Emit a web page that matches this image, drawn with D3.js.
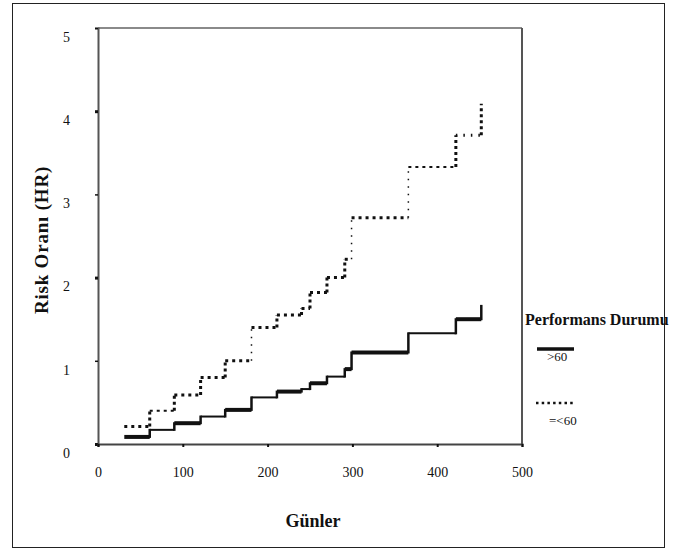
<!DOCTYPE html>
<html>
<head>
<meta charset="utf-8">
<script src="https://d3js.org/d3.v7.min.js"></script>
<style>
  body { margin: 0; background: #fff; }
  text { font-family: "Liberation Serif", "DejaVu Serif", serif; fill: #111; }
</style>
</head>
<body>
<div id="chart"></div>
<script>
// step change points (days) shared by both groups
const stepDays = [31, 61, 90, 121, 150, 181, 211, 240, 250, 270, 291, 299, 366, 422, 452];
// hazard ratio level held from each change point to the next
const hrAbove60 = [0.085, 0.17, 0.25, 0.33, 0.41, 0.56, 0.63, 0.66, 0.73, 0.81, 0.90, 1.10, 1.33, 1.50];
const hrBelow60 = [0.21, 0.40, 0.59, 0.80, 1.00, 1.40, 1.55, 1.63, 1.82, 2.00, 2.22, 2.72, 3.33, 3.71];
// value reached at the last change point
const hrAbove60End = 1.66;
const hrBelow60End = 4.09;

const xTicks = [0, 100, 200, 300, 400, 500];
const yTicks = [0, 1, 2, 3, 4, 5];
const legendTitle = "Performans Durumu";
const legendLabels = [">60", "=<60"];

const W = 682, H = 550;
const svg = d3.select("#chart").append("svg")
  .attr("width", W).attr("height", H);

// outer frame
svg.append("rect")
  .attr("x", 12.5).attr("y", 3.5).attr("width", 652).attr("height", 544)
  .attr("fill", "none").attr("stroke", "#222").attr("stroke-width", 1);

const x = d3.scaleLinear().domain([0, 500]).range([98, 522]);
const y = d3.scaleLinear().domain([0, 5]).range([444, 28]);

// plot frame: top lighter, right darker
svg.append("line").attr("x1", x(0)).attr("x2", x(500)).attr("y1", y(5)).attr("y2", y(5))
  .attr("stroke", "#8a8a8a").attr("stroke-width", 2);
svg.append("line").attr("x1", x(500)).attr("x2", x(500)).attr("y1", y(5)).attr("y2", y(0))
  .attr("stroke", "#555").attr("stroke-width", 2);

// y axis
const yAxis = svg.append("g")
  .attr("transform", "translate(" + x(0) + ",0)")
  .call(d3.axisLeft(y).tickValues(yTicks).tickSize(3).tickPadding(25).tickFormat(d3.format("d")));
yAxis.select(".domain").attr("stroke", "#555").attr("stroke-width", 2);
yAxis.selectAll(".tick line").attr("stroke", "#111").attr("stroke-width", function(d) { return d % 2 === 0 ? 3 : 1.5; });
yAxis.selectAll(".tick text")
  .attr("dy", "0.95em")
  .style("font-size", "14px").attr("fill", "#111");

// x axis
const xAxis = svg.append("g")
  .attr("transform", "translate(0," + y(0) + ")")
  .call(d3.axisBottom(x).tickValues(xTicks).tickSize(3).tickPadding(20).tickFormat(d3.format("d")));
xAxis.select(".domain").attr("stroke", "#444").attr("stroke-width", 2);
xAxis.selectAll(".tick line").attr("stroke", "#111").attr("stroke-width", 2);
xAxis.selectAll(".tick text")
  .style("font-size", "14px").attr("fill", "#111");

// build horizontal and vertical step segments
function segments(levels, endVal) {
  const h = [], v = [];
  levels.forEach(function(val, i) {
    h.push({x1: stepDays[i], x2: stepDays[i + 1], y: val, i: i});
    const next = i + 1 < levels.length ? levels[i + 1] : endVal;
    v.push({x: stepDays[i + 1], y1: val, y2: next});
  });
  return {h: h, v: v};
}

// >60 : solid step line, scanned look with alternating weights
const thickIdx = [0, 2, 4, 6, 8, 10, 11, 13];
const sA = segments(hrAbove60, hrAbove60End);
svg.append("g").selectAll("line").data(sA.h).join("line")
  .attr("x1", d => x(d.x1)).attr("x2", d => x(d.x2))
  .attr("y1", d => y(d.y)).attr("y2", d => y(d.y))
  .attr("stroke", "#111")
  .attr("stroke-width", d => thickIdx.includes(d.i) ? 4 : 2);
svg.append("g").selectAll("line").data(sA.v).join("line")
  .attr("x1", d => x(d.x)).attr("x2", d => x(d.x))
  .attr("y1", d => y(d.y1) + 1).attr("y2", d => y(d.y2) - 1)
  .attr("stroke", "#111").attr("stroke-width", 2.5);

// =<60 : dotted step line
const sB = segments(hrBelow60, hrBelow60End);
svg.append("g").selectAll("line").data(sB.h).join("line")
  .attr("x1", d => x(d.x1)).attr("x2", d => x(d.x2))
  .attr("y1", d => y(d.y)).attr("y2", d => y(d.y))
  .attr("stroke", "#111")
  .attr("stroke-width", d => (d.i === 12 || d.i === 1) ? 2 : 3)
  .attr("stroke-dasharray", d => (d.i === 13) ? "1.5,6" : "3,4");
svg.append("g").selectAll("line").data(sB.v).join("line")
  .attr("x1", d => x(d.x)).attr("x2", d => x(d.x))
  .attr("y1", d => y(d.y1)).attr("y2", d => y(d.y2))
  .attr("stroke", "#111")
  .attr("stroke-width", d => (d.y2 - d.y1 > 0.3 && d.x < 420) ? 1.5 : 3)
  .attr("stroke-dasharray", d => (d.y2 - d.y1 > 0.3 && d.x < 420) ? "1.5,6" : "3,3");

// axis titles
svg.append("text")
  .attr("transform", "translate(48," + 240 + ") rotate(-90)")
  .attr("text-anchor", "middle")
  .style("font-size", "19px").style("font-weight", "bold").style("letter-spacing", "0.8px")
  .text("Risk Oranı (HR)");

svg.append("text")
  .attr("x", 313).attr("y", 527)
  .attr("text-anchor", "middle")
  .style("font-size", "18px").style("font-weight", "bold")
  .text("Günler");

// legend
svg.append("text")
  .attr("x", 525).attr("y", 325)
  .style("font-size", "16px").style("font-weight", "bold")
  .text(legendTitle);
svg.append("line")
  .attr("x1", 537).attr("x2", 574).attr("y1", 349).attr("y2", 349)
  .attr("stroke", "#111").attr("stroke-width", 3.5);
svg.append("text")
  .attr("x", 547).attr("y", 361)
  .style("font-size", "13px")
  .text(legendLabels[0]);
svg.append("line")
  .attr("x1", 536).attr("x2", 574).attr("y1", 403).attr("y2", 403)
  .attr("stroke", "#111").attr("stroke-width", 2.5).attr("stroke-dasharray", "2.5,3.2");
svg.append("text")
  .attr("x", 549).attr("y", 425)
  .style("font-size", "13px")
  .text(legendLabels[1]);
</script>
</body>
</html>
